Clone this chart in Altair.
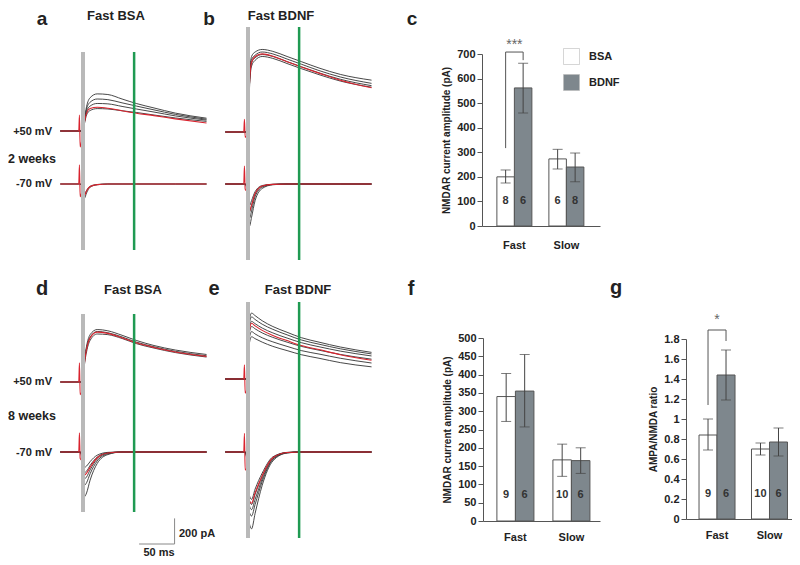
import altair as alt
import pandas as pd

W, H = 784, 549
FONT = "Liberation Sans"

# ---------------- trace data (pA), sampled at times T (ms) ----------------
T = [-32, -6, -5, -4, 0, 2, 5, 10, 20, 35, 55, 75, 100, 130, 174]

# panel a (2 weeks, Fast BSA)
A50_1 = [0, 0, 0, 0, 0, 90, 190, 260, 290, 285, 250, 215, 180, 140, 100]
A50_2 = [0, 0, 0, 0, 0, 80, 170, 225, 250, 245, 220, 195, 165, 130, 92]
A50_3 = [0, 0, 0, 0, 0, 70, 150, 195, 215, 212, 192, 172, 148, 118, 85]
A50_4 = [0, 0, 0, 0, 0, 55, 125, 160, 175, 172, 158, 145, 125, 102, 75]
A50_RED = [0, 0, 125, -125, 0, 65, 140, 175, 185, 178, 158, 139, 120, 95, 62]
A70_1 = [0, 0, 0, 0, -50, -110, -70, -25, -6, 0, 0, 0, 0, 0, 0]
A70_2 = [0, 0, 0, 0, -35, -80, -50, -18, -4, 0, 0, 0, 0, 0, 0]
A70_RED = [0, 0, 150, -100, -40, -90, -55, -20, -5, 0, 0, 0, 0, 0, 0]

# panel b (2 weeks, Fast BDNF)
B50_1 = [0, 0, 0, 0, 0, 420, 590, 625, 645, 630, 590, 550, 500, 450, 405]
B50_2 = [0, 0, 0, 0, 0, 390, 565, 600, 625, 610, 570, 530, 480, 430, 380]
B50_3 = [0, 0, 0, 0, 0, 360, 540, 580, 605, 590, 550, 510, 462, 412, 362]
B50_4 = [0, 0, 0, 0, 0, 330, 515, 560, 590, 575, 535, 495, 448, 398, 350]
B50_RED = [0, 0, 100, -40, 0, 370, 545, 590, 610, 592, 548, 508, 460, 405, 346]
B70_1 = [0, 0, 0, 0, -120, -330, -260, -130, -35, -6, 0, 0, 0, 0, 0]
B70_2 = [0, 0, 0, 0, -90, -270, -210, -100, -25, -4, 0, 0, 0, 0, 0]
B70_3 = [0, 0, 0, 0, -70, -220, -170, -80, -18, -3, 0, 0, 0, 0, 0]
B70_4 = [0, 0, 0, 0, -55, -170, -130, -60, -12, -2, 0, 0, 0, 0, 0]
B70_RED = [0, 0, 140, -40, -70, -210, -165, -75, -16, -3, 0, 0, 0, 0, 0]

# panel d (8 weeks, Fast BSA)
D50_1 = [0, 0, 0, 0, 0, 170, 280, 370, 410, 400, 365, 325, 285, 250, 215]
D50_2 = [0, 0, 0, 0, 0, 150, 260, 350, 395, 385, 352, 312, 275, 240, 205]
D50_3 = [0, 0, 0, 0, 0, 130, 235, 325, 375, 370, 340, 300, 265, 230, 195]
D50_RED = [0, 0, 150, -100, 0, 145, 255, 345, 390, 380, 345, 306, 270, 235, 200]
D70_1 = [0, 0, 0, 0, -150, -350, -320, -220, -90, -20, 0, 0, 0, 0, 0]
D70_2 = [0, 0, 0, 0, -110, -260, -240, -170, -70, -15, 0, 0, 0, 0, 0]
D70_3 = [0, 0, 0, 0, -90, -210, -195, -140, -55, -10, 0, 0, 0, 0, 0]
D70_4 = [0, 0, 0, 0, -70, -160, -150, -105, -40, -6, 0, 0, 0, 0, 0]
D70_5 = [0, 0, 0, 0, -55, -120, -110, -75, -25, -3, 0, 0, 0, 0, 0]
D70_RED = [0, 0, 150, -50, -80, -180, -165, -120, -45, -8, 0, 0, 0, 0, 0]

# panel e (8 weeks, Fast BDNF)
E50_1 = [0, 0, 0, 0, 0, 460, 515, 495, 455, 410, 365, 323, 288, 250, 208]
E50_2 = [0, 0, 0, 0, 0, 430, 485, 465, 428, 388, 345, 305, 272, 236, 196]
E50_3 = [0, 0, 0, 0, 0, 400, 450, 432, 398, 360, 320, 284, 252, 218, 180]
E50_4 = [0, 0, 0, 0, 0, 360, 410, 392, 360, 325, 288, 255, 225, 192, 155]
E50_5 = [0, 0, 0, 0, 0, 320, 370, 352, 322, 290, 255, 222, 195, 162, 125]
E50_6 = [0, 0, 0, 0, 0, 280, 330, 315, 288, 255, 222, 190, 162, 128, 95]
E50_RED = [0, 0, 110, -110, 0, 380, 435, 415, 380, 340, 300, 262, 230, 190, 146]
E70_1 = [0, 0, 0, 0, -200, -560, -600, -480, -260, -70, -8, 0, 0, 0, 0]
E70_2 = [0, 0, 0, 0, -160, -470, -500, -410, -230, -60, -6, 0, 0, 0, 0]
E70_3 = [0, 0, 0, 0, -140, -420, -450, -370, -210, -55, -5, 0, 0, 0, 0]
E70_4 = [0, 0, 0, 0, -120, -380, -410, -330, -190, -45, -4, 0, 0, 0, 0]
E70_5 = [0, 0, 0, 0, -100, -340, -370, -290, -165, -38, -3, 0, 0, 0, 0]
E70_RED = [0, 0, 145, -140, -120, -380, -400, -320, -185, -45, -4, 0, 0, 0, 0]

WINDOW_START = 0    # ms, grey marker
WINDOW_END = 72     # ms, green marker
SCALEBAR_MS = 50
SCALEBAR_PA = 200

# ---------------- bar data ----------------
GROUPS = ["Fast", "Slow"]
TREATS = ["BSA", "BDNF"]
GROUP_COL = ["Fast", "Fast", "Slow", "Slow"]
TREAT_COL = ["BSA", "BDNF", "BSA", "BDNF"]

C_MEAN = [200, 562, 273, 240]
C_LO = [175, 460, 232, 180]
C_HI = [228, 662, 312, 297]
C_N = [8, 6, 6, 8]

F_MEAN = [340, 355, 167, 165]
F_LO = [272, 257, 122, 130]
F_HI = [403, 455, 210, 200]
F_N = [9, 6, 10, 6]

G_MEAN = [0.84, 1.44, 0.70, 0.77]
G_LO = [0.69, 1.19, 0.64, 0.63]
G_HI = [1.00, 1.69, 0.76, 0.91]
G_N = [9, 6, 10, 6]

C_BRACKET = [317, 708, 708, 675]
G_BRACKET = [1.14, 1.89, 1.89, 1.78]

# ---------------- layout (pixels, view coordinates) ----------------
K_T = 0.71    # px per ms
K_I = 0.128   # px per pA
PANELS = {
    "a": dict(x0=75, base=123, gap=53, m_top=44, m_bot=242),
    "b": dict(x0=240, base=124, gap=52, m_top=19, m_bot=252),
    "d": dict(x0=75, base=374, gap=70, m_top=306, m_bot=504),
    "e": dict(x0=240, base=371, gap=73, m_top=294, m_bot=530),
}

REGISTRY = [
    ("a", "+50", [A50_1, A50_2, A50_3, A50_4], A50_RED),
    ("a", "-70", [A70_1, A70_2], A70_RED),
    ("b", "+50", [B50_1, B50_2, B50_3, B50_4], B50_RED),
    ("b", "-70", [B70_1, B70_2, B70_3, B70_4], B70_RED),
    ("d", "+50", [D50_1, D50_2, D50_3], D50_RED),
    ("d", "-70", [D70_1, D70_2, D70_3, D70_4, D70_5], D70_RED),
    ("e", "+50", [E50_1, E50_2, E50_3, E50_4, E50_5, E50_6], E50_RED),
    ("e", "-70", [E70_1, E70_2, E70_3, E70_4, E70_5], E70_RED),
]

rows = []
for panel, volt, blacks, red in REGISTRY:
    shift = 0 if volt == "+50" else PANELS[panel]["gap"] / K_I
    for i, tr in enumerate(blacks + [red]):
        is_red = 1 if i == len(blacks) else 0
        for t, v in zip(T, tr):
            rows.append(dict(panel=panel, trace=f"{volt}_{i}", red=is_red, t=t, disp=v - shift))
TRACE_DF = pd.DataFrame(rows)


def trace_panel(p):
    cfg = PANELS[p]
    xs = alt.Scale(domain=[0, 100], range=[cfg["x0"], cfg["x0"] + 100 * K_T], nice=False, zero=False)
    ys = alt.Scale(domain=[0, 1000], range=[cfg["base"], cfg["base"] - 1000 * K_I], nice=False, zero=False)
    X = alt.X("t:Q", scale=xs, axis=None)
    Y = alt.Y("disp:Q", scale=ys, axis=None)
    d = TRACE_DF[TRACE_DF.panel == p]
    black = alt.Chart(d[d.red == 0]).mark_line(color="#333333", strokeWidth=0.9, interpolate="monotone").encode(
        x=X, y=Y, detail="trace:N")
    red = alt.Chart(d[d.red == 1]).mark_line(color="#d9232e", strokeWidth=1.1, interpolate="monotone").encode(
        x=X, y=Y, detail="trace:N")
    grey = alt.Chart(pd.DataFrame({"t": [WINDOW_START]})).mark_rule(color="#b9b9b9", strokeWidth=4).encode(
        x=X, y=alt.value(cfg["m_top"]), y2=alt.value(cfg["m_bot"]))
    green = alt.Chart(pd.DataFrame({"t": [WINDOW_END]})).mark_rule(color="#1f9a52", strokeWidth=2.5).encode(
        x=X, y=alt.value(cfg["m_top"]), y2=alt.value(cfg["m_bot"]))
    layers = [black, red, grey, green]
    if p == "d":
        t0 = 79
        i0 = -(536 - cfg["base"]) / K_I
        hb = alt.Chart(pd.DataFrame({"t": [t0], "t2": [t0 + SCALEBAR_MS], "disp": [i0]})).mark_rule(
            color="#888", strokeWidth=1).encode(x=X, x2="t2:Q", y=Y)
        vb = alt.Chart(pd.DataFrame({"t": [t0 + SCALEBAR_MS], "disp": [i0], "d2": [i0 + SCALEBAR_PA]})).mark_rule(
            color="#888", strokeWidth=1).encode(x=X, y=Y, y2="d2:Q")
        layers += [hb, vb]
    return alt.layer(*layers)


FILL = alt.Fill("treat:N", scale=alt.Scale(domain=TREATS, range=["#ffffff", "#7e878d"]),
                legend=alt.Legend(orient="none", legendX=555, legendY=40, title=None, symbolType="square",
                                  symbolSize=256, symbolStrokeColor="#bbbbbb", symbolStrokeWidth=0.6,
                                  labelFont=FONT, labelFontSize=11, labelFontWeight="bold", labelColor="#222",
                                  rowPadding=7, labelOffset=9, padding=0))


def bar_panel(mean, lo, hi, n, ydom, yvals, yr, xr, pi, po, al, title, ax_x, ax_y, n_y, lab_pad,
              bracket=None, star_y=None, stars=None):
    df = pd.DataFrame({"group": GROUP_COL, "treat": TREAT_COL, "mean": mean, "lo": lo, "hi": hi,
                       "n": n, "ny": [n_y] * 4})
    xsc = alt.Scale(domain=GROUPS, range=xr, paddingInner=pi, paddingOuter=po, align=al)
    xax = alt.Axis(orient="bottom", offset=ax_y - H, ticks=False, tickSize=0, labelAngle=0,
                   labelPadding=lab_pad, title=None, domainColor="#555", labelFont=FONT,
                   labelFontSize=11, labelFontWeight="bold", labelColor="#222")
    X = alt.X("group:N", scale=xsc, axis=xax)
    XO = alt.XOffset("treat:N", scale=alt.Scale(domain=TREATS, paddingInner=0, paddingOuter=0))
    ysc = alt.Scale(domain=ydom, range=yr, nice=False, zero=True)
    yax = alt.Axis(orient="left", offset=-ax_x, values=yvals, format="~r", title=title, grid=False,
                   domainColor="#555", tickColor="#555", tickSize=5, labelPadding=2, labelFont=FONT,
                   labelFontSize=11, labelFontWeight="bold", labelColor="#222", titleFont=FONT,
                   titleFontSize=10, titleFontWeight="bold", titleColor="#222", titlePadding=5)
    base = alt.Chart(df)
    bars = base.mark_bar(stroke="#555", strokeWidth=1).encode(
        x=X, xOffset=XO, y=alt.Y("mean:Q", scale=ysc, axis=yax), fill=FILL)
    err = base.mark_rule(color="#444", strokeWidth=1).encode(
        x=X, xOffset=XO, y=alt.Y("lo:Q", scale=ysc, axis=yax), y2="hi:Q")
    cap_lo = base.mark_tick(color="#444", size=10, thickness=1).encode(
        x=X, xOffset=XO, y=alt.Y("lo:Q", scale=ysc, axis=yax))
    cap_hi = base.mark_tick(color="#444", size=10, thickness=1).encode(
        x=X, xOffset=XO, y=alt.Y("hi:Q", scale=ysc, axis=yax))
    ntext = base.mark_text(font=FONT, fontSize=11, fontWeight="bold", color="#333", baseline="middle").encode(
        x=X, xOffset=XO, y=alt.Y("ny:Q", scale=ysc, axis=yax), text="n:N")
    layers = [bars, err, cap_lo, cap_hi, ntext]
    if bracket is not None:
        bdf = pd.DataFrame({"group": ["Fast"] * 4, "treat": ["BSA", "BSA", "BDNF", "BDNF"],
                            "val": bracket, "seq": [0, 1, 2, 3]})
        br = alt.Chart(bdf).mark_line(color="#555", strokeWidth=1).encode(
            x=X, xOffset=XO, y=alt.Y("val:Q", scale=ysc, axis=yax), order="seq:Q")
        sdf = pd.DataFrame({"group": ["Fast"], "val": [star_y], "lab": [stars]})
        st = alt.Chart(sdf).mark_text(font=FONT, fontSize=14, color="#666", baseline="alphabetic").encode(
            x=X, y=alt.Y("val:Q", scale=ysc, axis=yax), text="lab:N")
        layers += [br, st]
    return alt.layer(*layers)


panel_c = bar_panel(C_MEAN, C_LO, C_HI, C_N, [0, 700], list(range(0, 701, 100)), [218, 46],
                    [474, 592], 0.327, 0.298, 0.48, "NMDAR current amplitude (pA)", 474, 218, 100, 13,
                    bracket=C_BRACKET, star_y=722, stars="***")
panel_f = bar_panel(F_MEAN, F_LO, F_HI, F_N, [0, 500], list(range(0, 501, 50)), [513, 330],
                    [475, 592], 0.339, 0.214, 0.58, "NMDAR current amplitude (pA)", 475, 513, 70, 10)
panel_g = bar_panel(G_MEAN, G_LO, G_HI, G_N, [0, 1.8], [0, 0.2, 0.4, 0.6, 0.8, 1.0, 1.2, 1.4, 1.6, 1.8],
                    [511, 331], [678, 784], 0.314, 0.167, 0.743, "AMPA/NMDA ratio", 678, 511, 0.25, 10,
                    bracket=G_BRACKET, star_y=1.95, stars="*")


def label(txt, x, y, size, align="center", baseline="alphabetic"):
    return alt.Chart(pd.DataFrame({"_": [0]})).mark_text(
        font=FONT, fontSize=size, fontWeight="bold", color="#222", align=align, baseline=baseline).encode(
        x=alt.value(x), y=alt.value(y), text=alt.value(txt))


texts = [
    label("a", 34, 17, 19), label("b", 201, 17, 19), label("c", 404, 17, 19),
    label("d", 34, 287, 20), label("e", 206, 287, 20), label("f", 403, 287, 20), label("g", 608, 286, 20),
    label("Fast BSA", 108, 12, 13), label("Fast BDNF", 273, 12, 13),
    label("Fast BSA", 125, 286, 13), label("Fast BDNF", 290, 286, 13),
    label("+50 mV", 44, 124, 11, "right", "middle"), label("-70 mV", 44, 176, 11, "right", "middle"),
    label("2 weeks", 0, 151, 12.5, "left", "middle"),
    label("+50 mV", 44, 374, 11, "right", "middle"), label("-70 mV", 44, 445, 11, "right", "middle"),
    label("8 weeks", 0, 408, 12.5, "left", "middle"),
    label("200 pA", 171, 526, 11, "left", "middle"), label("50 ms", 151, 548, 11, "center", "alphabetic"),
]

chart = alt.layer(
    trace_panel("a"), trace_panel("b"), trace_panel("d"), trace_panel("e"),
    panel_c, panel_f, panel_g, *texts
).resolve_scale(
    x="independent", y="independent", xOffset="independent"
).properties(
    width=W, height=H, autosize=alt.AutoSizeParams(type="none"), padding=0
).configure_view(stroke=None).configure_axis(grid=False)

chart.save("out.html", embed_options={"renderer": "svg", "actions": False})
